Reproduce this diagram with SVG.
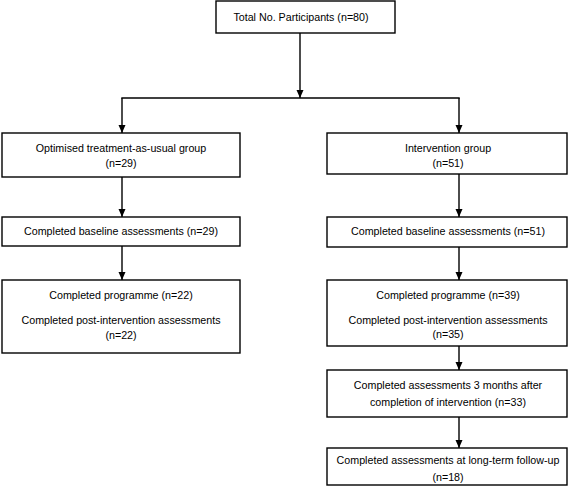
<svg xmlns="http://www.w3.org/2000/svg" width="568" height="487" viewBox="0 0 568 487">
<defs>
<marker id="ah" markerUnits="userSpaceOnUse" markerWidth="8" markerHeight="8" viewBox="0 0 8 8" refX="8" refY="4" orient="auto">
<path d="M0,0.5 L8,4 L0,7.5 Z" fill="#000"/>
</marker>
</defs>
<style>
rect{fill:#fff;stroke:#000;stroke-width:1.4}
text{font-family:"Liberation Sans",Arial,sans-serif;font-size:10.7px;fill:#000;text-anchor:middle}
.c line{stroke:#000;stroke-width:1.4}
.a{marker-end:url(#ah)}
</style>
<g id="total"><rect x="216" y="1" width="179" height="32"/><text x="301" y="21">Total No. Participants (n=80)</text></g>
<g id="tau"><rect x="2" y="133" width="238" height="44"/><text x="121" y="152">Optimised treatment-as-usual group</text><text x="121" y="167">(n=29)</text></g>
<g id="intervention"><rect x="327" y="133" width="240" height="41"/><text x="448" y="152">Intervention group</text><text x="448" y="167">(n=51)</text></g>
<g id="tau-baseline"><rect x="2" y="217" width="238" height="29"/><text x="121" y="235">Completed baseline assessments (n=29)</text></g>
<g id="int-baseline"><rect x="327" y="217" width="240" height="30"/><text x="448" y="235">Completed baseline assessments (n=51)</text></g>
<g id="tau-completed"><rect x="2" y="280" width="238" height="73"/><text x="121" y="299">Completed programme (n=22)</text><text x="121" y="324">Completed post-intervention assessments</text><text x="121" y="339">(n=22)</text></g>
<g id="int-completed"><rect x="327" y="280" width="240" height="66"/><text x="448" y="299">Completed programme (n=39)</text><text x="448" y="324">Completed post-intervention assessments</text><text x="448" y="338">(n=35)</text></g>
<g id="int-3months"><rect x="327" y="370" width="240" height="47"/><text x="448" y="389">Completed assessments 3 months after</text><text x="448" y="406">completion of intervention (n=33)</text></g>
<g id="int-longterm"><rect x="327" y="448" width="240" height="37"/><text x="448" y="464">Completed assessments at long-term follow-up</text><text x="448" y="481">(n=18)</text></g>
<g id="connectors" class="c">
<line class="a" x1="300" y1="33" x2="300" y2="98"/>
<line x1="121.3" y1="98" x2="459.7" y2="98"/>
<line class="a" x1="122" y1="98" x2="122" y2="133"/>
<line class="a" x1="459" y1="98" x2="459" y2="133"/>
<line class="a" x1="122" y1="177" x2="122" y2="217"/>
<line class="a" x1="459" y1="174" x2="459" y2="217"/>
<line class="a" x1="122" y1="246" x2="122" y2="280"/>
<line class="a" x1="459" y1="247" x2="459" y2="280"/>
<line class="a" x1="459" y1="346" x2="459" y2="370"/>
<line class="a" x1="459" y1="417" x2="459" y2="448"/>
</g>
</svg>
